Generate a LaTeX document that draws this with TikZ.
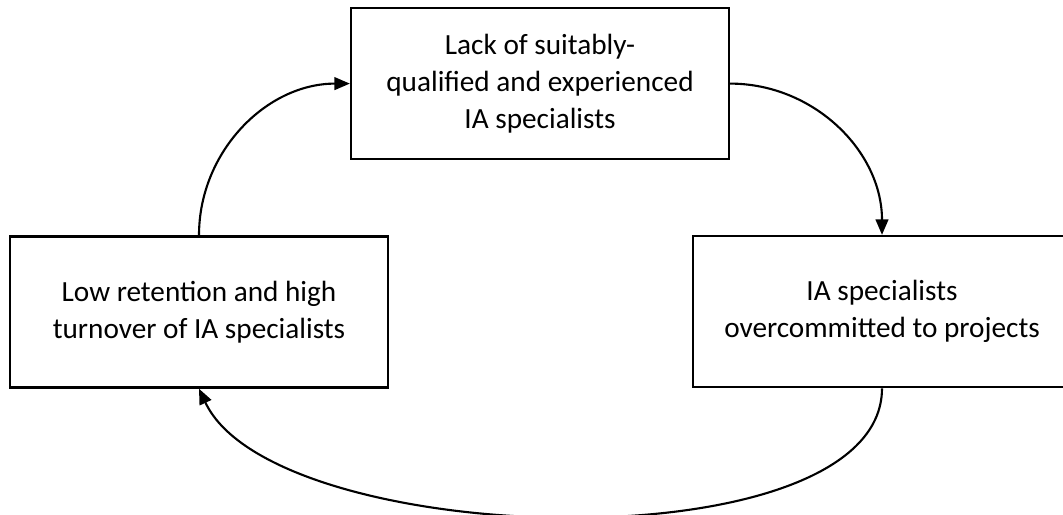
\documentclass[tikz,border=0pt]{standalone}
\usepackage{fontspec}
\setmainfont{Carlito}
\usepackage{tikz}
\usetikzlibrary{arrows.meta, positioning}

\begin{document}
\begin{tikzpicture}[
        cause/.style={rectangle, draw=black, line width=1.6pt, minimum width=9.45cm, minimum height=3.78cm, align=center, font=\fontsize{20.8}{26.3}\selectfont},
        link/.style={-{Triangle[length=11pt, width=9pt]}, line width=1.5pt}
    ]
        \useasboundingbox (0,0) rectangle (26.575,-12.875);
        \node[cause] (lack) at (13.5,-2.09) {Lack of suitably-\\qualified and experienced\\IA specialists};
        \node[cause] (low) at (4.975,-7.8) {Low retention and high\\turnover of IA specialists};
        \node[cause] (over) at (22.05,-7.79) {IA specialists\\overcommitted to projects};
        
        \draw[link] (low.north) to[out=90, in=180] (lack.west);
        \draw[link] (lack.east) to[out=0, in=90] (over.north);
        \draw[link] (over.south) to[out=-90, in=-65, looseness=0.67] (low.south);
    \end{tikzpicture}
\end{document}
